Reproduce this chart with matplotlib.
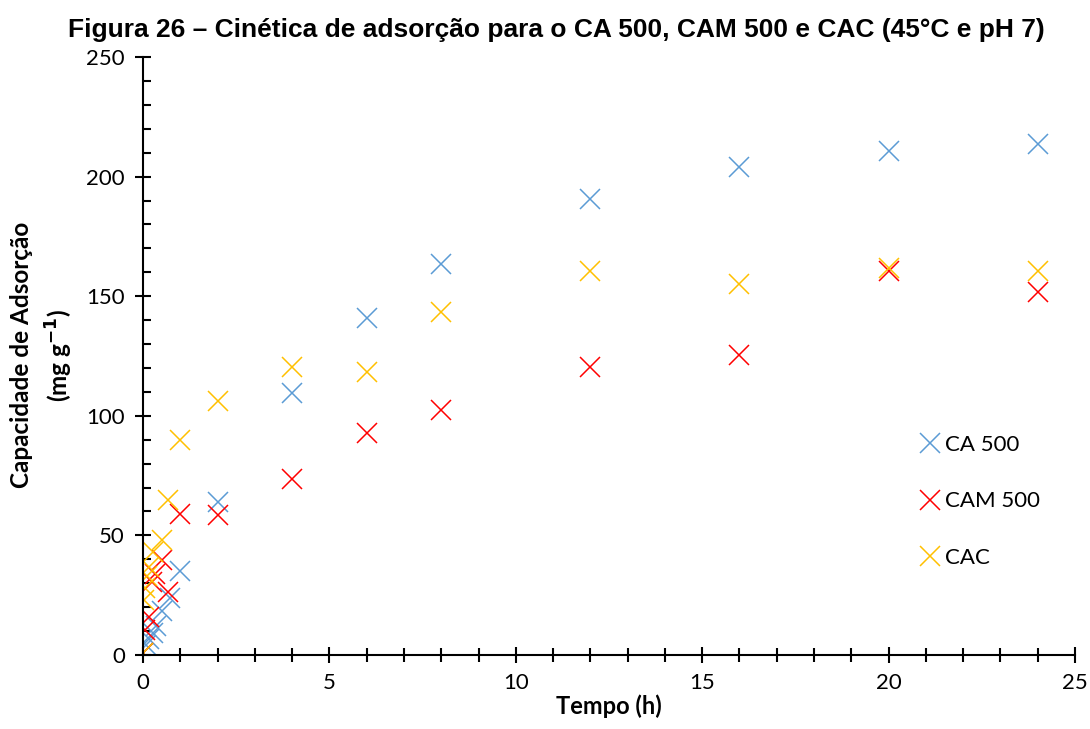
import matplotlib.pyplot as plt
from matplotlib.ticker import MultipleLocator

# Dados (tempo em h, capacidade em mg/g)
t_ca500 = [0, 0.08, 0.17, 0.28, 0.36, 0.5, 0.72, 1, 2, 4, 6, 8, 12, 16, 20, 24]
q_ca500 = [1, 4, 6.5, 9, 12, 18.5, 23.7, 35, 64, 109.5, 141, 163.5, 190.6, 204, 210.5, 213.6]

t_cam500 = [0, 0.05, 0.17, 0.23, 0.32, 0.5, 0.68, 1, 2, 4, 6, 8, 12, 16, 20, 24]
q_cam500 = [1, 10.5, 16, 30.5, 34, 39.7, 26.5, 59, 58.5, 73.6, 92.8, 102.4, 120.4, 125.4, 160.5, 151.8]

t_cac = [0, 0.02, 0.05, 0.1, 0.15, 0.27, 0.5, 0.667, 1, 2, 4, 6, 8, 12, 16, 20, 24]
q_cac = [1, 23, 28, 33, 37, 43, 48, 65, 90, 106.2, 120.4, 118.3, 143.4, 160.5, 155, 161.8, 160.5]

fig = plt.figure(figsize=(10.9, 7.29), dpi=100)
ax = fig.add_axes([0.1312, 0.1015, 0.855, 0.8203])

estilo = dict(marker='x', linestyle='none', markersize=14, markeredgewidth=1.1)
ax.plot(t_ca500, q_ca500, color='#5B9BD5', label='CA 500', **estilo)
ax.plot(t_cam500, q_cam500, color='#FF0000', label='CAM 500', **estilo)
ax.plot(t_cac, q_cac, color='#FFC000', label='CAC', **estilo)

ax.set_xlim(0, 25)
ax.set_ylim(0, 250)
ax.xaxis.set_major_locator(MultipleLocator(5))
ax.xaxis.set_minor_locator(MultipleLocator(1))
ax.yaxis.set_major_locator(MultipleLocator(50))
ax.yaxis.set_minor_locator(MultipleLocator(10))
ax.spines['top'].set_visible(False)
ax.spines['right'].set_visible(False)
for s in ['left', 'bottom']:
    ax.spines[s].set_linewidth(1.5)
ax.tick_params(which='major', direction='inout', length=12, width=1.5, labelsize=16, pad=7)
ax.tick_params(axis='x', which='minor', direction='inout', length=10, width=1.5)
ax.tick_params(axis='y', which='minor', direction='in', length=6, width=1.5)
for lbl in ax.get_xticklabels() + ax.get_yticklabels():
    lbl.set_fontfamily('Lato')

ax.set_xlabel('Tempo (h)', fontsize=17, fontweight='bold', fontfamily='Lato', labelpad=1)
fig.text(0.039, 0.513, 'Capacidade de Adsorção\n(mg g$^{\\mathbf{-1}}$)', rotation=90,
         ha='center', va='center', fontsize=17.5, fontweight='bold', fontfamily='Lato',
         linespacing=1.45, multialignment='center')

fig.suptitle('Figura 26 – Cinética de adsorção para o CA 500, CAM 500 e CAC (45°C e pH 7)',
             x=0.51, y=0.975, fontsize=19, fontweight='bold', fontfamily='Liberation Sans')

leg = ax.legend(loc='center left', bbox_to_anchor=(0.813, 0.257), frameon=False,
                prop={'family': 'Lato', 'size': 16}, labelspacing=1.65,
                handlelength=0.8, handletextpad=0.3, markerscale=1.0)

plt.savefig('out.png', dpi=100)
